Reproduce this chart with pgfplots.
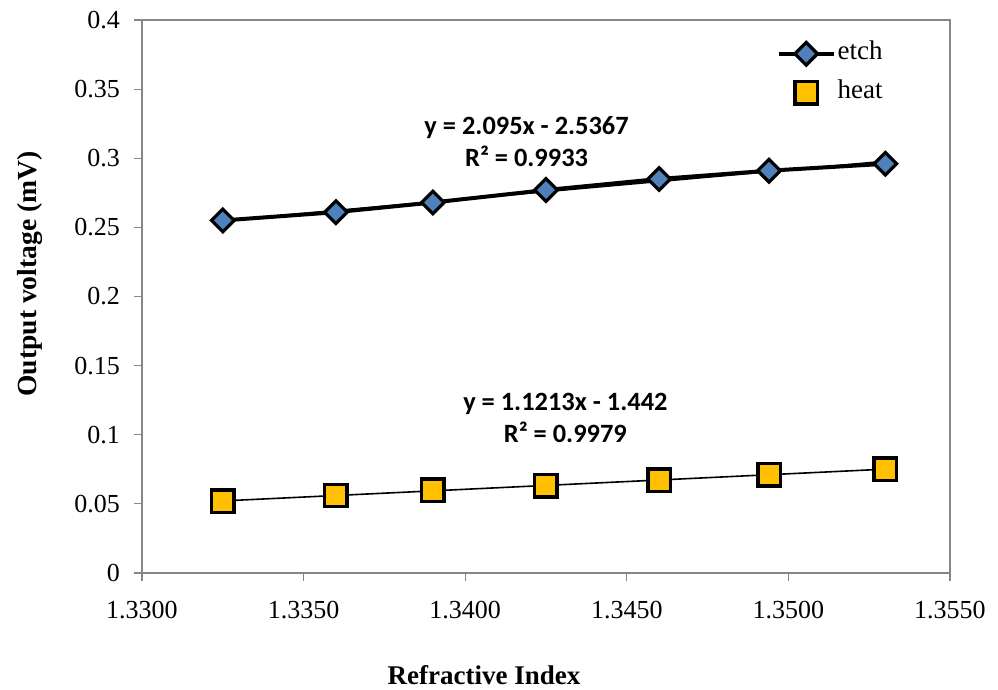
\documentclass[border=0pt]{standalone}
\usepackage{fontspec}
\setmainfont{Liberation Serif}
\newfontfamily\calibri{Carlito}
\usepackage{pgfplots}
\pgfplotsset{compat=1.18}
\definecolor{axgray}{RGB}{134,134,134}
\definecolor{etchblue}{RGB}{79,129,189}
\definecolor{heatgold}{RGB}{255,192,0}
\pgfplotsset{longleg/.style={legend image code/.code={\draw[mark repeat=2,mark phase=2,##1] plot coordinates {(0pt,0pt)(13.75pt,0pt)(27.5pt,0pt)};}}}
\begin{document}
\begin{tikzpicture}
\useasboundingbox (-71pt,-58.5pt) rectangle (428pt,286.5pt);
\begin{axis}[
  scale only axis, width=404pt, height=276.5pt,
  xmin=1.33, xmax=1.355, ymin=0, ymax=0.4,
  xtick={1.33,1.335,1.34,1.345,1.35,1.355},
  ytick={0,0.05,0.1,0.15,0.2,0.25,0.3,0.35,0.4},
  scaled x ticks=false, scaled y ticks=false,
  xticklabel style={/pgf/number format/fixed, /pgf/number format/fixed zerofill, /pgf/number format/precision=4, yshift=-6.5pt},
  yticklabel style={/pgf/number format/fixed, /pgf/number format/precision=2, xshift=-3.5pt},
  /pgf/number format/assume math mode=true,
  tick label style={font=\fontsize{13}{15.5}\selectfont},
  axis line style={axgray, line width=0.6pt},
  tick style={axgray, line width=0.6pt},
  major tick length=4pt,
  tick align=outside,
  xtick pos=bottom, ytick pos=left,
  every axis y label/.style={at={(axis description cs:-0.1386,0.5407)}, rotate=90, anchor=center},
  every axis x label/.style={at={(axis description cs:0.4233,-0.1844)}, anchor=center},
  ylabel={\fontsize{13.8}{16}\selectfont\bfseries Output voltage (mV)},
  xlabel={\fontsize{13.5}{16}\selectfont\bfseries Refractive Index},
  legend style={at={(rel axis cs:0.785,0.965)}, anchor=north west, draw=none, fill=none,
    inner sep=0pt, row sep=5.5pt, font=\fontsize{13.5}{16}\selectfont,
    nodes={inner sep=1pt, text height=9pt, text depth=3pt}},
  legend cell align=left,
]
\addplot[black, line width=2pt, mark=square*, mark size=4pt,
  mark options={rotate=45, fill=etchblue, draw=black, line width=1.6pt}, longleg]
  coordinates {(1.3325,0.255) (1.336,0.261) (1.339,0.268) (1.3425,0.277) (1.346,0.285) (1.3494,0.291) (1.353,0.296)};
\addlegendentry{etch}
\addplot[only marks, mark=square*, mark size=5.6pt,
  mark options={fill=heatgold, draw=black, line width=1.7pt}, longleg]
  coordinates {(1.3325,0.052) (1.336,0.056) (1.339,0.060) (1.3425,0.063) (1.346,0.067) (1.3494,0.071) (1.353,0.075)};
\addlegendentry{heat}
\addplot[black, line width=0.8pt, forget plot] coordinates {(1.3325,0.25489) (1.353,0.29784)};
\addplot[black, line width=0.8pt, forget plot] coordinates {(1.3325,0.05213) (1.353,0.07512)};
\node[align=center, font=\calibri\bfseries\fontsize{13.2}{15.8}\selectfont] at (axis cs:1.3419,0.3121) {y = 2.095x - 2.5367\\R² = 0.9933};
\node[align=center, font=\calibri\bfseries\fontsize{13.2}{15.8}\selectfont] at (axis cs:1.3431,0.1121) {y = 1.1213x - 1.442\\R² = 0.9979};
\end{axis}
\draw[axgray, line width=0.6pt] (0,0) rectangle (404pt,276.5pt);
\end{tikzpicture}
\end{document}
